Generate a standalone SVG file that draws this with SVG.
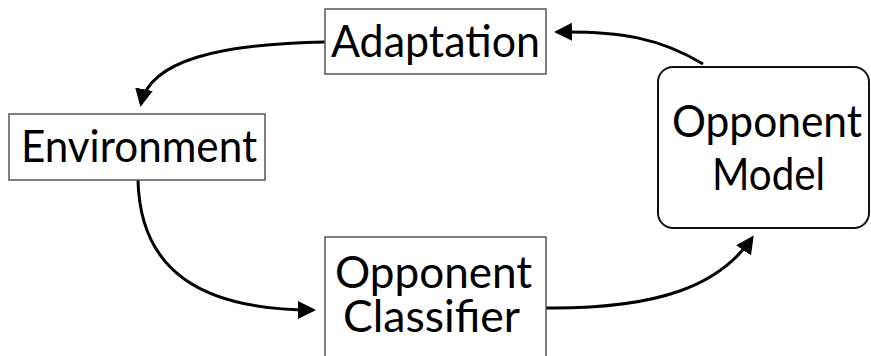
<svg xmlns="http://www.w3.org/2000/svg" width="871" height="356" viewBox="0 0 871 356">
  <style>
    .box { fill: #ffffff; stroke: #555555; stroke-width: 1.5; }
    .rbox { fill: #ffffff; stroke: #111111; stroke-width: 2; }
    .label { font-family: "Lato", "Open Sans", "Liberation Sans", sans-serif; font-size: 44px; fill: #000000; text-anchor: middle; }
    .link { fill: none; stroke: #000000; stroke-width: 3; marker-end: url(#head); }
  </style>
  <defs>
    <marker id="head" markerWidth="6" markerHeight="6" refX="5" refY="3" orient="auto" markerUnits="strokeWidth">
      <path d="M0,0 L6,3 L0,6 Z" fill="#000000"/>
    </marker>
  </defs>

  <g id="connectors">
    <!-- Adaptation -> Environment -->
    <path class="link" d="M325,42 C220,44 150,60 141,104"/>
    <!-- Environment -> Opponent Classifier -->
    <path class="link" d="M138,180 C140,270 200,310 313,310"/>
    <!-- Opponent Classifier -> Opponent Model -->
    <path class="link" d="M546,308 C660,309 720,285 752,238"/>
    <!-- Opponent Model -> Adaptation -->
    <path class="link" d="M703,64 C660,38 620,31 557,32"/>
  </g>

  <g id="adaptation">
    <rect class="box" x="325" y="9" width="221" height="65"/>
    <text class="label" x="435.5" y="57" textLength="209" lengthAdjust="spacingAndGlyphs">Adaptation</text>
  </g>

  <g id="environment">
    <rect class="box" x="9" y="114" width="256" height="66"/>
    <text class="label" x="139" y="162" textLength="236" lengthAdjust="spacingAndGlyphs">Environment</text>
  </g>

  <g id="opponent-model">
    <rect class="rbox" x="658" y="67" width="211" height="161" rx="15" ry="15"/>
    <text class="label" x="767" y="137" textLength="190" lengthAdjust="spacingAndGlyphs">Opponent</text>
    <text class="label" x="768.5" y="190" textLength="113" lengthAdjust="spacingAndGlyphs">Model</text>
  </g>

  <g id="opponent-classifier">
    <rect class="box" x="325" y="237" width="221" height="130"/>
    <text class="label" x="433.5" y="288" textLength="197" lengthAdjust="spacingAndGlyphs">Opponent</text>
    <text class="label" x="431.5" y="332" textLength="177" lengthAdjust="spacingAndGlyphs">Classifier</text>
  </g>
</svg>
